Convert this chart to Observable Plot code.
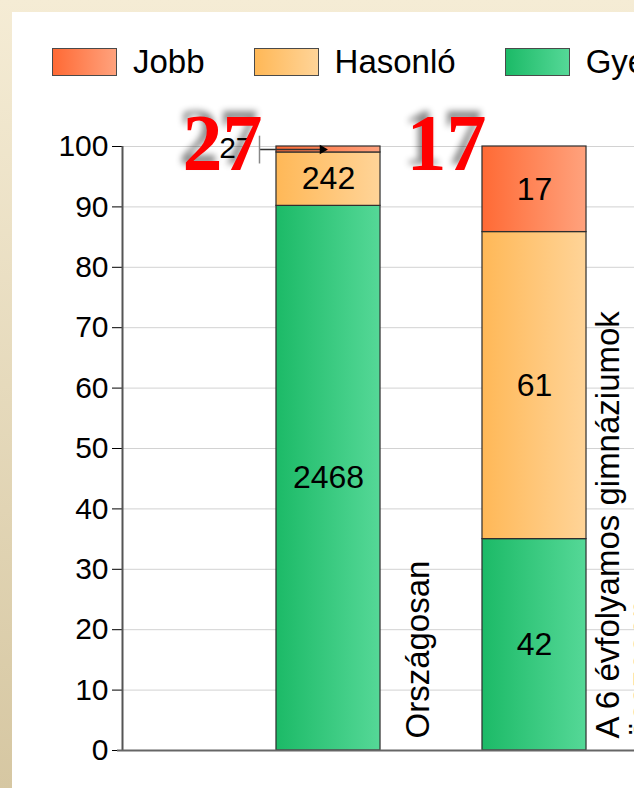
<!DOCTYPE html>
<html>
<head>
<meta charset="utf-8">
<script src="https://cdn.jsdelivr.net/npm/d3@7"></script>
<script src="https://cdn.jsdelivr.net/npm/@observablehq/plot@0.6"></script>
<style>
html, body { margin: 0; padding: 0; width: 634px; height: 788px; overflow: hidden; }
body { position: relative; background: linear-gradient(to bottom, #f5ecd5, #d6c7a2); font-family: "Liberation Sans", Arial, sans-serif; }
#panel { position: absolute; left: 12px; top: 12px; width: 640px; height: 800px; background: #ffffff; overflow: hidden; }
#legend { position: absolute; left: 40px; top: 31px; display: flex; align-items: center; white-space: nowrap; font-size: 33px; color: #000; }
.item { display: flex; align-items: center; margin-right: 49px; }
.sw { width: 63px; height: 26px; border: 1.5px solid #4a4a4a; margin-right: 16px; }
#chart { position: absolute; left: 0; top: 78px; }
</style>
</head>
<body>
<div id="panel">
  <div id="legend"></div>
  <div id="chart"></div>
</div>
<script>
// ---- data ----
const categories = ["Országosan", "A 6 évfolyamos gimnáziumok\nösszesen"];
const seriesNames = ["Jobb", "Hasonló", "Gyengébb"];
const jobb = [27, 17];
const hasonlo = [242, 61];
const gyengebb = [2468, 42];
const yTicks = [0, 10, 20, 30, 40, 50, 60, 70, 80, 90, 100];

// ---- styles ----
const gradients = {
  "Jobb": ["#ff6a35", "#ffa27d"],
  "Hasonló": ["#ffb857", "#ffd498"],
  "Gyengébb": ["#1cba67", "#55d897"]
};
const gradId = name => "grad" + seriesNames.indexOf(name);

// ---- legend ----
const legend = d3.select("#legend");
seriesNames.forEach(name => {
  const it = legend.append("div").attr("class", "item");
  it.append("div").attr("class", "sw")
    .style("background", `linear-gradient(to right, ${gradients[name][0]}, ${gradients[name][1]})`);
  it.append("span").text(name);
});

// ---- derived table (stack, bottom to top) ----
const counts = {"Gyengébb": gyengebb, "Hasonló": hasonlo, "Jobb": jobb};
const stackOrder = ["Gyengébb", "Hasonló", "Jobb"];
const rows = [];
categories.forEach((cat, i) => {
  const total = stackOrder.reduce((s, k) => s + counts[k][i], 0);
  let acc = 0;
  for (const k of stackOrder) {
    const v = counts[k][i];
    const p = v / total * 100;
    rows.push({cat, pos: i + 1, series: k, value: v, y1: acc, y2: acc + p, mid: acc + p / 2});
    acc += p;
  }
});
const catRows = categories.map((cat, i) => ({cat, pos: i + 1, jobb: jobb[i]}));
const bigRows = rows.filter(d => d.y2 - d.y1 >= 5);
const smallRows = rows.filter(d => d.y2 - d.y1 < 5);

const halfBar = 0.2525;
const unitPx = 206;

const defs = () => {
  const g = d3.create("svg:defs");
  seriesNames.forEach(name => {
    const lg = g.append("linearGradient").attr("id", gradId(name))
      .attr("x1", 0).attr("x2", 1).attr("y1", 0).attr("y2", 0);
    lg.append("stop").attr("offset", "0%").attr("stop-color", gradients[name][0]);
    lg.append("stop").attr("offset", "100%").attr("stop-color", gradients[name][1]);
  });
  return g.node();
};

const chart = Plot.plot({
  width: 622,
  height: 698,
  marginLeft: 110,
  marginRight: 0,
  marginTop: 56,
  marginBottom: 38,
  style: {fontFamily: "'Liberation Sans', Arial, sans-serif", fontSize: "30px", background: "transparent", color: "#000"},
  x: {domain: [0, 512 / unitPx], axis: null},
  y: {domain: [0, 100], ticks: yTicks, tickSize: 10, tickPadding: 4, label: null, tickFormat: d => String(d)},
  color: {type: "identity"},
  marks: [
    defs,
    Plot.ruleY(yTicks.filter(t => t > 0), {stroke: "#d2d2d2", strokeWidth: 1}),
    Plot.rect(rows, {
      x1: d => d.pos - halfBar, x2: d => d.pos + halfBar,
      y1: "y1", y2: "y2",
      fill: d => `url(#${gradId(d.series)})`,
      stroke: "#2e2e2e", strokeWidth: 1.2
    }),
    Plot.text(bigRows, {x: "pos", y: "mid", text: d => String(d.value), fontSize: 32, fill: "#000"}),
    // callout for the tiny segment
    Plot.ruleY(smallRows, {y: "mid", x1: d => d.pos - 69 / unitPx, x2: d => d.pos - 6 / unitPx, stroke: "#333", strokeWidth: 1.5}),
    Plot.dot(smallRows, {x: "pos", y: "mid", dx: -6, symbol: "triangle2", r: 4.5, fill: "#000", stroke: "none", rotate: 90}),
    Plot.ruleX(smallRows, {x: "pos", y1: d => d.mid - 2.4, y2: d => d.mid + 2.2, dx: -69, stroke: "#888", strokeWidth: 1.5}),
    Plot.text(smallRows, {x: "pos", y: "mid", text: d => String(d.value), textAnchor: "end", dx: -76, dy: -1, fontSize: 30, fill: "#000"}),
    // axis lines
    Plot.ruleX([0], {stroke: "#555", strokeWidth: 2}),
    Plot.ruleY([0], {stroke: "#666", strokeWidth: 2, insetLeft: -5}),
    // category labels
    Plot.text(catRows, {x: "pos", y: () => 0, text: "cat", rotate: -90, textAnchor: "start", dx: 90, dy: -12, fontSize: 33, lineHeight: 1.0, fill: "#000"}),
    // big red annotations
    Plot.text(catRows.slice(0, 1), {x: "pos", y: () => 100, text: d => String(d.jobb), fontSize: 80, fontWeight: "bold", fontFamily: "'Liberation Serif', 'Times New Roman', serif", fill: "red", dx: -106, dy: -2}),
    Plot.text(catRows.slice(1, 2), {x: "pos", y: () => 100, text: d => String(d.jobb), fontSize: 80, fontWeight: "bold", fontFamily: "'Liberation Serif', 'Times New Roman', serif", fill: "red", dx: -88, dy: -2})
  ]
});

d3.select(chart).selectAll("g[fill='red']").style("filter", "drop-shadow(-4px -6px 3px rgba(0,0,0,0.45))");
document.getElementById("chart").appendChild(chart);
</script>
</body>
</html>
